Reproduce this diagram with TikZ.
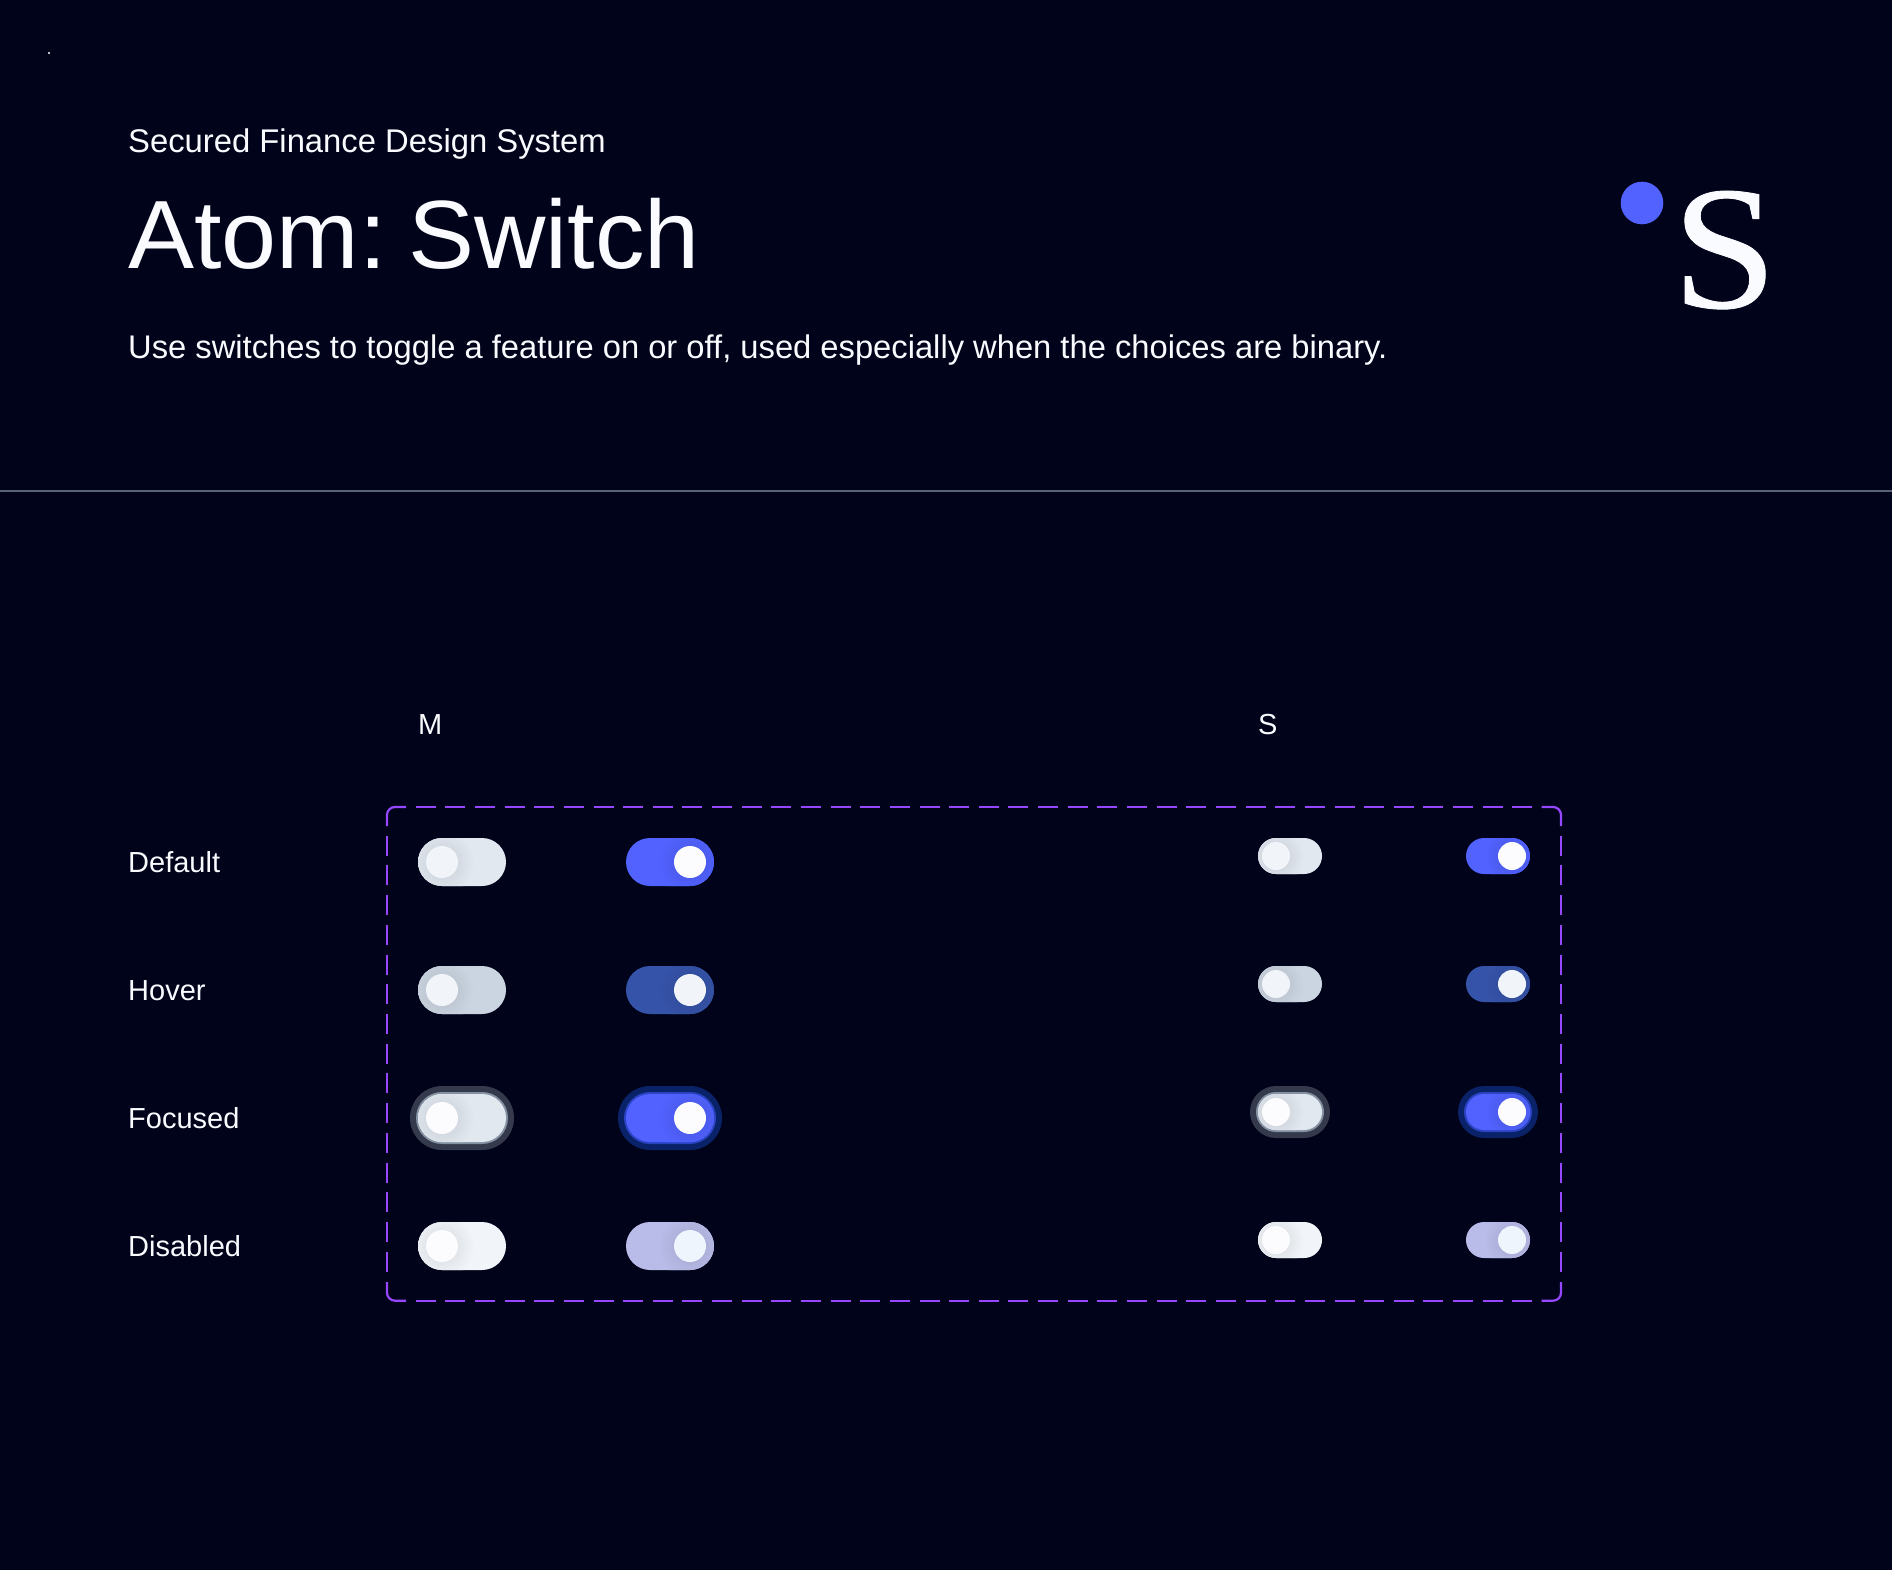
\documentclass[tikz,border=0pt]{standalone}
\usepackage{fontspec}
\setmainfont{Liberation Sans}
\newfontfamily\logofont[FakeStretch=1.07,FakeBold=0.5]{Liberation Serif}
\newfontfamily\titlefont[FakeStretch=1.02]{Liberation Sans}
\usetikzlibrary{calc}
\definecolor{bgc}{HTML}{00031A}
\definecolor{ink}{HTML}{FAFBFF}
\definecolor{rulec}{HTML}{566378}
\definecolor{boxc}{HTML}{9747FF}
\definecolor{brand}{HTML}{5162FF}
\definecolor{off}{HTML}{E2E8F0}
\definecolor{offhover}{HTML}{CBD5E1}
\definecolor{offdis}{HTML}{F1F5F9}
\definecolor{onhover}{HTML}{3553A9}
\definecolor{ondis}{HTML}{B9BCE8}
\definecolor{knobsoft}{HTML}{F1F5F9}
\definecolor{knobwhite}{HTML}{FCFCFF}
\definecolor{knobdis}{HTML}{EFF5FD}
\definecolor{ringoff}{HTML}{343A4B}
\definecolor{ringoffin}{HTML}{8491A2}
\definecolor{ringon}{HTML}{0A2268}
\definecolor{ringonin}{HTML}{2A44C4}
\tikzset{
  x=1pt,y=1pt,
  lbl/.style={text=ink,inner sep=0pt,anchor=base west,font=\fontsize{29}{29}\selectfont},
  boxline/.style={draw=boxc,line width=2.2pt},
}
% \swt{name}{left x}{centre y}{width}{height}{knob cx}{knob r}{track}{knob}
\newcommand{\swt}[9]{%
  \path[fill=#8,rounded corners=#5*0.5pt] (#2,#3-#5*0.5) rectangle ++(#4,#5);
  \begin{scope}
    \clip[rounded corners=#5*0.5pt] (#2,#3-#5*0.5) rectangle ++(#4,#5);
    \shade[inner color=black!12!#8,outer color=#8] (#6,#3) circle[radius=#7*2];
  \end{scope}
  \node[circle,fill=#9,inner sep=0pt,minimum size=#7*2pt] (#1) at (#6,#3) {};
}
\newcommand{\swring}[6]{%
  \path[fill=#5,rounded corners=#4*0.5pt+8pt] (#1-8,#2-#4*0.5-8) rectangle ++(#3+16,#4+16);
  \path[fill=#6,rounded corners=#4*0.5pt+2pt] (#1-2,#2-#4*0.5-2) rectangle ++(#3+4,#4+4);
}
\begin{document}
\begin{tikzpicture}
\useasboundingbox[fill=bgc] (0,0) rectangle (1892,-1570);
\fill[white!75!bgc] (48,-52) rectangle ++(2,-2);

\node[text=ink,inner sep=0pt,anchor=base west,font=\fontsize{32.8}{33}\selectfont] (kicker) at (128,-152.4) {Secured Finance Design System};
\node[text=ink,inner sep=0pt,anchor=base west,font=\titlefont\fontsize{97}{97}\selectfont] (title) at (128,-269) {Atom:\hspace{-15pt} Switch};
\node[text=ink,inner sep=0pt,anchor=base west,font=\fontsize{32.72}{33}\selectfont] (sub) at (128,-358) {Use switches to toggle a feature on or off, used especially when the choices are binary.};

\node[circle,fill=brand,inner sep=0pt,minimum size=42.6pt] (dot) at (1642,-203) {};
\node[text=ink,inner sep=0pt,anchor=base west,font=\logofont\fontsize{176}{176}\selectfont] (logo) at (1672,-307.5) {S};

\draw[rulec,line width=1.8pt] (0,-491) coordinate (ruleL) -- (1892,-491) coordinate (ruleR);

\node[lbl] (colm) at (418,-734) {M};
\node[lbl] (cols) at (1258,-734) {S};
\node[lbl] (rowa) at (128,-872) {Default};
\node[lbl] (rowb) at (128,-1000) {Hover};
\node[lbl] (rowc) at (128,-1128) {Focused};
\node[lbl] (rowd) at (128,-1256) {Disabled};

% dashed frame
\draw[boxline] (387,-826) -- (387,-815) arc[start angle=180,end angle=90,radius=8] -- (406,-807);
\draw[boxline] (1541.67,-807) -- (1553,-807) arc[start angle=90,end angle=0,radius=8] -- (1561,-826);
\draw[boxline] (387,-1282) -- (387,-1292.7) arc[start angle=180,end angle=270,radius=8] -- (406,-1300.7);
\draw[boxline] (1541.67,-1300.7) -- (1553,-1300.7) arc[start angle=270,end angle=360,radius=8] -- (1561,-1282);
\draw[boxline,dash pattern=on 20pt off 9.64pt] (415.67,-807) -- (1532.4,-807);
\draw[boxline,dash pattern=on 20pt off 9.64pt] (415.67,-1300.7) -- (1532.4,-1300.7);
\draw[boxline,dash pattern=on 20pt off 9.72pt] (387,-835.67) -- (387,-1271.8);
\draw[boxline,dash pattern=on 20pt off 9.72pt] (1561,-835.67) -- (1561,-1271.8);

% M
\swt{ma}{418}{-862}{88}{48}{442}{16}{off}{knobsoft}
\swt{mb}{626}{-862}{88}{48}{690}{16}{brand}{knobwhite}
\swt{mc}{418}{-990}{88}{48}{442}{16}{offhover}{knobsoft}
\swt{md}{626}{-990}{88}{48}{690}{16}{onhover}{knobsoft}
\swring{418}{-1118}{88}{48}{ringoff}{ringoffin}
\swt{me}{418}{-1118}{88}{48}{442}{16}{off}{knobwhite}
\swring{626}{-1118}{88}{48}{ringon}{ringonin}
\swt{mf}{626}{-1118}{88}{48}{690}{16}{brand}{knobwhite}
\swt{mg}{418}{-1246}{88}{48}{442}{16}{offdis}{knobwhite}
\swt{mh}{626}{-1246}{88}{48}{690}{16}{ondis}{knobdis}
% S
\swt{sa}{1258}{-856}{64}{36}{1276}{14}{off}{knobsoft}
\swt{sb}{1466}{-856}{64}{36}{1512}{14}{brand}{knobwhite}
\swt{sc}{1258}{-984}{64}{36}{1276}{14}{offhover}{knobsoft}
\swt{sd}{1466}{-984}{64}{36}{1512}{14}{onhover}{knobsoft}
\swring{1258}{-1112}{64}{36}{ringoff}{ringoffin}
\swt{se}{1258}{-1112}{64}{36}{1276}{14}{off}{knobwhite}
\swring{1466}{-1112}{64}{36}{ringon}{ringonin}
\swt{sf}{1466}{-1112}{64}{36}{1512}{14}{brand}{knobwhite}
\swt{sg}{1258}{-1240}{64}{36}{1276}{14}{offdis}{knobwhite}
\swt{sh}{1466}{-1240}{64}{36}{1512}{14}{ondis}{knobdis}
\end{tikzpicture}
\end{document}
